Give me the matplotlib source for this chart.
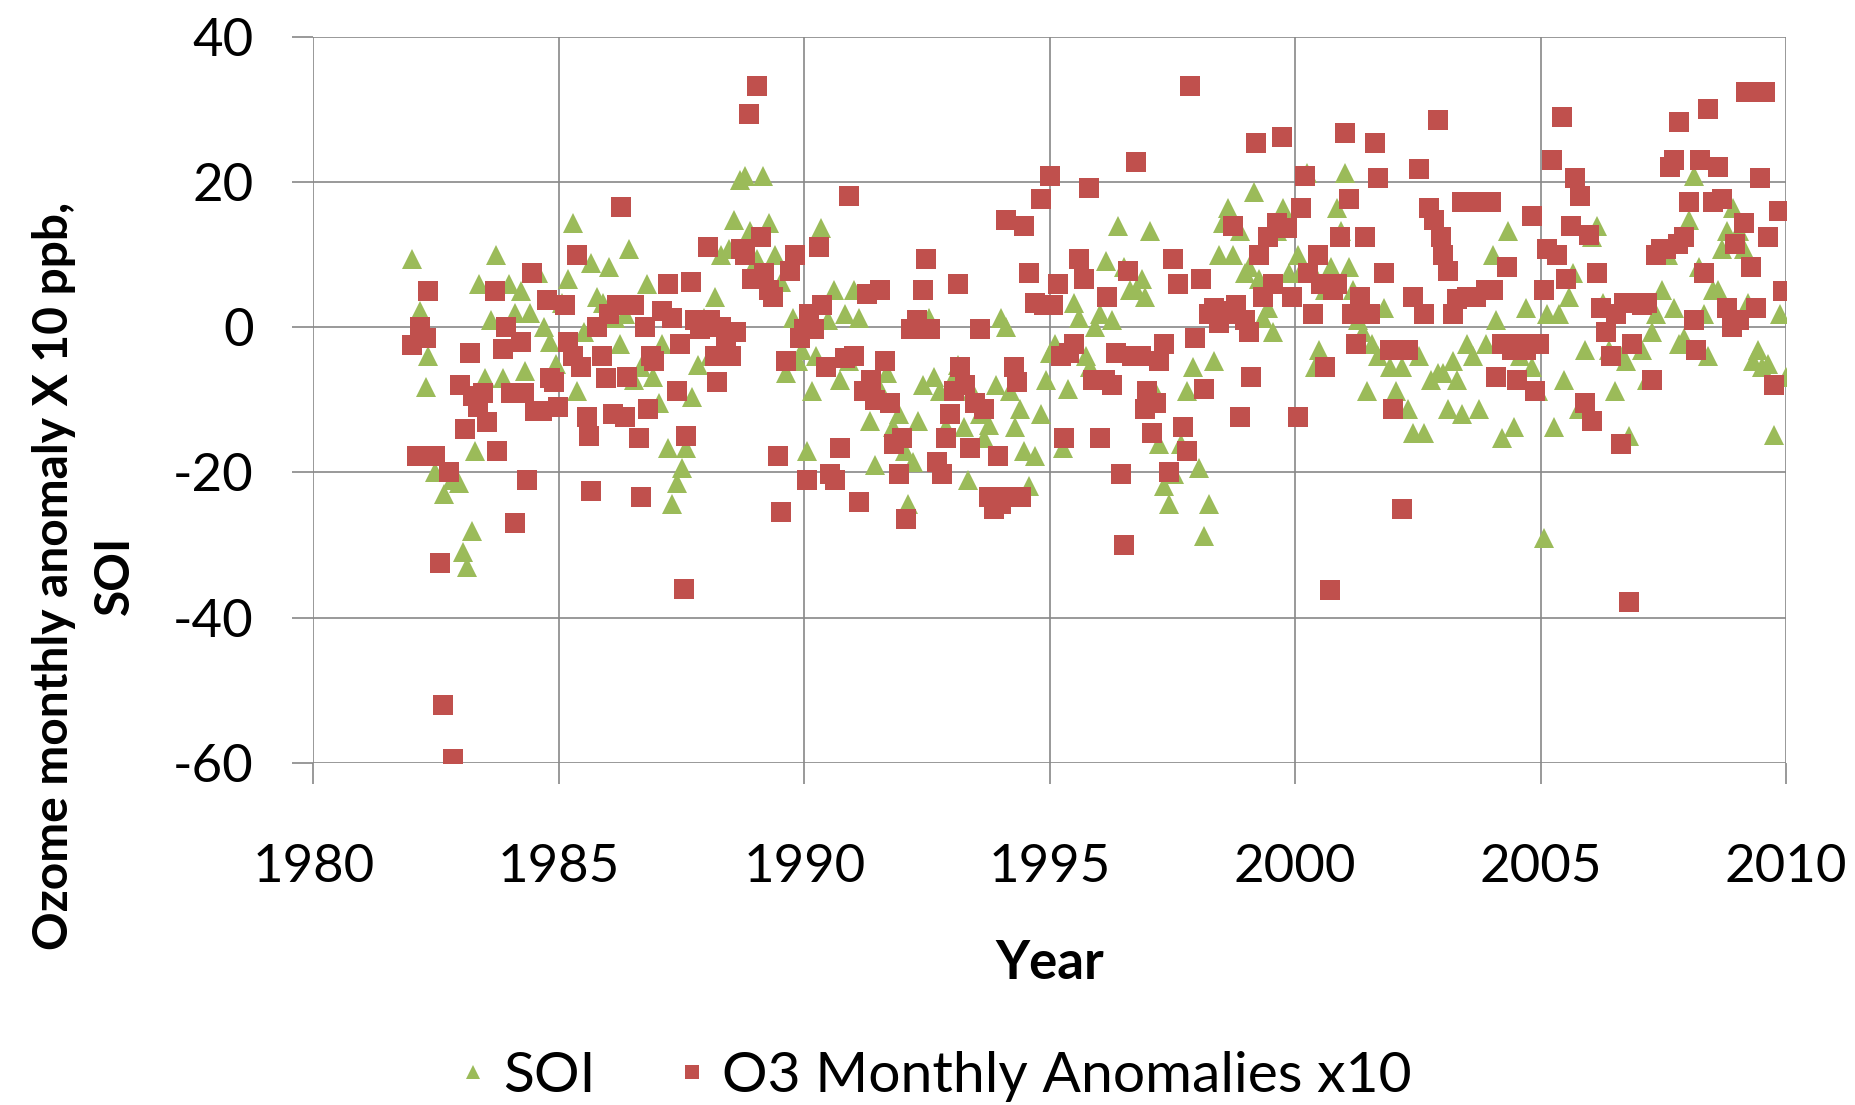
import matplotlib
matplotlib.use("Agg")
import matplotlib.pyplot as plt
from matplotlib.lines import Line2D
from matplotlib.ticker import MultipleLocator

plt.rcParams.update({
    'font.family': ['Lato', 'DejaVu Sans'],
    'axes.unicode_minus': False,
})

# SOI (decimal year, value)
soi_year = [
    1982.00, 1982.17, 1982.29, 1982.34, 1982.48, 1982.65, 1982.82, 1982.96,
    1983.04, 1983.13, 1983.23, 1983.30, 1983.37, 1983.49, 1983.62, 1983.71, 1983.86, 1983.98,
    1984.10, 1984.22, 1984.31, 1984.41, 1984.58, 1984.70, 1984.82, 1984.94,
    1985.06, 1985.18, 1985.28, 1985.37, 1985.52, 1985.66, 1985.78, 1985.90,
    1986.03, 1986.15, 1986.24, 1986.34, 1986.43, 1986.53, 1986.68, 1986.80, 1986.92,
    1987.04, 1987.11, 1987.23, 1987.30, 1987.40, 1987.50, 1987.59, 1987.71, 1987.83, 1987.95,
    1988.07, 1988.17, 1988.31, 1988.46, 1988.56, 1988.68, 1988.80, 1988.89,
    1989.04, 1989.16, 1989.28, 1989.40, 1989.52, 1989.62, 1989.76, 1989.88, 1989.95,
    1990.05, 1990.15, 1990.24, 1990.34, 1990.48, 1990.60, 1990.72, 1990.82, 1990.92,
    1991.01, 1991.11, 1991.21, 1991.33, 1991.45, 1991.57, 1991.69, 1991.81, 1991.93,
    1992.05, 1992.12, 1992.22, 1992.32, 1992.41, 1992.53, 1992.65, 1992.77, 1992.89,
    1993.04, 1993.13, 1993.26, 1993.33, 1993.42, 1993.57, 1993.66, 1993.76, 1993.91,
    1994.00, 1994.10, 1994.19, 1994.29, 1994.39, 1994.48, 1994.58, 1994.70, 1994.82, 1994.92,
    1995.01, 1995.11, 1995.26, 1995.38, 1995.50, 1995.59, 1995.74, 1995.83, 1995.93,
    1996.03, 1996.15, 1996.27, 1996.39, 1996.51, 1996.63, 1996.75, 1996.87, 1996.94,
    1997.04, 1997.14, 1997.23, 1997.33, 1997.42, 1997.54, 1997.67, 1997.79, 1997.91,
    1998.05, 1998.15, 1998.24, 1998.34, 1998.44, 1998.53, 1998.63, 1998.73, 1998.87, 1998.97,
    1999.06, 1999.16, 1999.26, 1999.35, 1999.45, 1999.55, 1999.64, 1999.76, 1999.88,
    2000.05, 2000.12, 2000.24, 2000.32, 2000.41, 2000.49, 2000.61, 2000.73, 2000.85, 2000.94,
    2001.02, 2001.09, 2001.18, 2001.28, 2001.38, 2001.47, 2001.57, 2001.69, 2001.81, 2001.93,
    2002.05, 2002.17, 2002.29, 2002.41, 2002.53, 2002.63, 2002.77, 2002.90,
    2003.02, 2003.11, 2003.21, 2003.30, 2003.40, 2003.50, 2003.62, 2003.74, 2003.88,
    2004.03, 2004.10, 2004.22, 2004.34, 2004.46, 2004.58, 2004.70, 2004.82, 2004.94,
    2005.06, 2005.14, 2005.28, 2005.38, 2005.47, 2005.57, 2005.67, 2005.79, 2005.91,
    2006.05, 2006.15, 2006.27, 2006.39, 2006.51, 2006.63, 2006.75, 2006.80, 2006.87,
    2007.06, 2007.16, 2007.26, 2007.35, 2007.47, 2007.59, 2007.71, 2007.83, 2007.93,
    2008.03, 2008.12, 2008.22, 2008.32, 2008.41, 2008.51, 2008.61, 2008.70, 2008.80, 2008.92,
    2009.04, 2009.14, 2009.23, 2009.33, 2009.43, 2009.52, 2009.64, 2009.76, 2009.88, 2010.00,
]
soi_value = [
    9.4, 2.3, -8.3, -4.0, -20.0, -23.0, -21.0, -21.5,
    -31.0, -33.0, -28.0, -17.0, 6.0, -7.0, 1.0, 10.0, -7.0, 6.0,
    2.0, 5.0, -6.0, 2.0, 7.5, 0.0, -2.0, -5.0,
    3.4, 6.7, 14.3, -8.8, -0.6, 8.8, 4.2, 3.4,
    8.3, 1.3, -2.3, 1.8, 10.7, -7.2, -5.5, 5.9, -6.8,
    -10.4, -2.3, -16.6, -24.3, -21.5, -19.4, -16.6, -9.6, -5.2, 1.3,
    -3.9, 4.2, 9.9, 10.7, 14.8, 20.2, 20.8, 13.2,
    9.4, 20.8, 14.3, 9.9, 6.2, -6.3, 1.3, -4.7, -3.1,
    -17.0, -8.8, -3.9, 13.7, 1.0, 5.1, -7.2, 1.8, -4.7,
    5.1, 1.3, -8.8, -12.9, -19.0, -8.8, -6.3, -13.7, -12.0,
    -17.0, -24.3, -18.6, -12.9, -8.0, 1.3, -6.8, -8.8, -13.7,
    -6.8, -5.2, -13.7, -21.0, -8.8, -12.0, -15.3, -13.4, -8.0,
    1.3, 0.0, -8.8, -13.7, -11.2, -17.0, -21.8, -17.8, -12.0, -7.2,
    -3.6, -2.3, -16.6, -8.5, 3.4, 1.3, -3.9, -5.5, 0.0,
    1.8, 9.1, 1.0, 14.0, 8.3, 5.1, 5.1, 6.7, 4.2,
    13.2, -8.8, -16.1, -21.8, -24.3, -20.2, -16.1, -8.8, -5.5,
    -19.4, -28.7, -24.3, -4.7, 9.9, 14.3, 16.4, 9.9, 13.2, 7.5,
    8.3, 18.6, 6.7, 1.3, 2.6, -0.6, 13.2, 16.4, 7.5,
    9.9, 7.8, 21.3, 8.3, -5.5, -3.1, 5.1, 8.3, 16.4, 13.2,
    21.3, 8.3, 5.1, 1.0, -0.6, -8.8, -2.3, -3.9, 2.6, -5.5,
    -8.8, -5.5, -11.2, -14.5, -3.9, -14.5, -7.2, -6.3,
    -6.3, -11.2, -4.7, -7.2, -12.0, -2.3, -3.9, -11.2, -2.3,
    9.9, 1.0, -15.3, 13.2, -13.7, -3.9, 2.6, -5.5, -8.8,
    -29.0, 1.8, -13.7, 1.8, -7.2, 4.2, 7.5, -11.2, -3.1,
    12.4, 14.0, 3.4, -3.1, -8.8, -3.9, -4.7, -15.0, -2.3,
    -3.1, -7.2, -0.6, 1.8, 5.1, 9.9, 2.6, -2.3, -1.5,
    14.8, 20.8, 8.3, 1.8, -3.9, 5.1, 5.1, 10.7, 13.2, 16.4,
    13.2, 10.7, 3.4, -4.7, -3.1, -5.5, -5.0, -14.8, 1.8, -6.8,
]

# O3 monthly anomalies x10
o3_year = [
    1982.00, 1982.10, 1982.17, 1982.29, 1982.34, 1982.48, 1982.58, 1982.63, 1982.77, 1982.84,
    1982.99, 1983.08, 1983.18, 1983.25, 1983.35, 1983.45, 1983.54, 1983.69, 1983.74, 1983.86, 1983.93, 1984.02,
    1984.10, 1984.22, 1984.29, 1984.36, 1984.46, 1984.51, 1984.65, 1984.75, 1984.82, 1984.89, 1984.99,
    1985.13, 1985.18, 1985.28, 1985.37, 1985.45, 1985.57, 1985.62, 1985.66, 1985.78, 1985.88, 1985.95,
    1986.03, 1986.10, 1986.19, 1986.27, 1986.34, 1986.39, 1986.53, 1986.63, 1986.68, 1986.75, 1986.82, 1986.87, 1986.94,
    1987.11, 1987.23, 1987.30, 1987.40, 1987.47, 1987.54, 1987.59, 1987.69, 1987.78, 1987.88, 1987.98,
    1988.03, 1988.07, 1988.17, 1988.22, 1988.31, 1988.41, 1988.51, 1988.60, 1988.70, 1988.80, 1988.87, 1988.94,
    1989.04, 1989.11, 1989.18, 1989.28, 1989.37, 1989.47, 1989.52, 1989.62, 1989.71, 1989.81, 1989.91, 1990.00,
    1990.05, 1990.10, 1990.19, 1990.29, 1990.36, 1990.44, 1990.53, 1990.63, 1990.72, 1990.82, 1990.92,
    1991.01, 1991.11, 1991.21, 1991.28, 1991.35, 1991.45, 1991.54, 1991.64, 1991.74, 1991.83, 1991.93,
    1992.00, 1992.07, 1992.17, 1992.29, 1992.41, 1992.48, 1992.56, 1992.70, 1992.80, 1992.89, 1992.97,
    1993.04, 1993.13, 1993.18, 1993.28, 1993.38, 1993.47, 1993.57, 1993.66, 1993.76, 1993.86, 1993.95,
    1994.00, 1994.10, 1994.17, 1994.27, 1994.34, 1994.41, 1994.48, 1994.58, 1994.70, 1994.82, 1994.89,
    1995.01, 1995.06, 1995.16, 1995.23, 1995.30, 1995.40, 1995.50, 1995.59, 1995.69, 1995.79, 1995.88,
    1996.03, 1996.12, 1996.17, 1996.27, 1996.36, 1996.46, 1996.51, 1996.60, 1996.68, 1996.75, 1996.85, 1996.94,
    1996.99, 1997.09, 1997.16, 1997.23, 1997.33, 1997.42, 1997.52, 1997.62, 1997.71, 1997.79, 1997.86, 1997.95,
    1998.08, 1998.15, 1998.24, 1998.34, 1998.44, 1998.53, 1998.63, 1998.73, 1998.80, 1998.87, 1998.97,
    1999.06, 1999.11, 1999.21, 1999.26, 1999.35, 1999.45, 1999.55, 1999.64, 1999.74, 1999.83, 1999.93,
    2000.05, 2000.12, 2000.20, 2000.27, 2000.36, 2000.46, 2000.53, 2000.61, 2000.70, 2000.77, 2000.85, 2000.92,
    2001.02, 2001.09, 2001.16, 2001.23, 2001.33, 2001.42, 2001.52, 2001.62, 2001.69, 2001.81, 2001.93, 2002.00,
    2002.10, 2002.17, 2002.29, 2002.41, 2002.53, 2002.63, 2002.73, 2002.82, 2002.90, 2002.97,
    2003.02, 2003.11, 2003.21, 2003.30, 2003.40, 2003.50, 2003.59, 2003.69, 2003.79, 2003.88, 2003.98,
    2004.03, 2004.10, 2004.22, 2004.32, 2004.41, 2004.51, 2004.58, 2004.70, 2004.82, 2004.89, 2004.96,
    2005.06, 2005.14, 2005.23, 2005.33, 2005.43, 2005.52, 2005.62, 2005.71, 2005.81, 2005.91, 2005.98,
    2006.05, 2006.15, 2006.24, 2006.34, 2006.44, 2006.53, 2006.63, 2006.70, 2006.80, 2006.87, 2006.94,
    2007.06, 2007.16, 2007.26, 2007.35, 2007.45, 2007.55, 2007.64, 2007.71, 2007.79, 2007.83, 2007.93,
    2008.03, 2008.12, 2008.17, 2008.24, 2008.32, 2008.41, 2008.51, 2008.61, 2008.70, 2008.80, 2008.89, 2008.97,
    2009.04, 2009.14, 2009.19, 2009.28, 2009.38, 2009.47, 2009.57, 2009.64, 2009.76, 2009.86, 2009.93,
]
o3_value = [
    -2.5, -17.8, 0.0, -1.5, 5.0, -17.8, -32.4, -52.0, -20.0, -59.5,
    -8.0, -14.0, -3.5, -9.5, -11.0, -9.0, -13.0, 5.0, -17.0, -3.0, 0.0, -9.0,
    -27.0, -2.0, -9.0, -21.0, 7.5, -11.5, -11.5, 3.7, -7.0, -7.5, -11.0,
    3.0, -2.0, -4.0, 10.0, -5.5, -12.4, -15.0, -22.6, 0.0, -4.0, -7.0,
    1.8, -12.0, 3.0, 16.6, -12.4, -6.8, 3.0, -15.3, -23.4, 0.0, -11.2, -3.9, -4.7,
    2.3, 5.9, 1.3, -8.8, -2.3, -36.0, -15.0, 6.2, 1.0, -0.3, 0.0,
    11.0, 1.0, -3.9, -7.5, 0.0, -2.3, -3.9, -0.6, 10.7, 9.9, 29.3, 6.7,
    33.2, 12.4, 7.5, 5.1, 4.2, -17.8, -25.4, -4.7, 7.8, 9.9, -1.5, -0.3,
    -21.0, 1.8, -0.3, 11.0, 3.0, -5.5, -20.2, -21.0, -16.6, -4.2, 18.0,
    -3.9, -24.1, -8.8, 4.6, -7.2, -10.0, 5.1, -4.7, -10.4, -16.1, -20.2,
    -15.3, -26.4, -0.3, 1.0, 5.1, 9.4, -0.3, -18.6, -20.2, -15.3, -12.0,
    -8.8, 5.9, -5.5, -8.0, -16.6, -10.4, -0.3, -11.2, -23.4, -25.0, -17.8,
    -24.3, 14.8, -23.4, -5.5, -7.5, -23.4, 14.0, 7.5, 3.4, 17.6, 3.0,
    20.8, 3.0, 5.9, -3.9, -15.3, -3.6, -2.3, 9.4, 6.7, 19.2, -7.2,
    -15.3, -7.2, 4.2, -8.0, -3.6, -20.2, -30.0, 7.8, -3.9, 22.8, -3.9, -11.2,
    -8.8, -14.5, -10.4, -4.7, -2.3, -19.9, 9.4, 5.9, -13.7, -17.0, 33.2, -1.5,
    6.7, -8.5, 1.8, 2.6, 0.6, 2.3, 1.8, 14.0, 3.0, -12.4, 1.0,
    -0.6, -6.8, 25.4, 9.9, 4.2, 12.4, 5.9, 14.3, 26.2, 13.7, 4.2,
    -12.4, 16.4, 20.8, 7.5, 1.8, 9.9, 5.9, -5.5, -36.2, 5.1, 5.9, 12.4,
    26.7, 17.6, 1.8, -2.3, 4.2, 12.4, 1.8, 25.4, 20.5, 7.5, -3.1, -11.2,
    -3.1, -25.0, -3.1, 4.2, 21.8, 1.8, 16.4, 14.8, 28.5, 12.4,
    9.9, 7.8, 1.8, 3.9, 17.3, 4.2, 17.3, 4.2, 17.3, 5.1, 17.3,
    5.1, -6.8, -2.3, 8.3, -3.1, -7.2, -2.3, -3.1, 15.3, -8.8, -2.3,
    5.1, 10.7, 23.0, 9.9, 29.0, 6.7, 14.0, 20.5, 18.0, -10.4, 12.7,
    -12.9, 7.5, 2.6, -0.6, -3.9, 1.8, -16.1, 3.4, -37.8, -2.3, 3.4,
    3.0, 3.4, -7.2, 9.9, 10.7, 10.7, 22.1, 23.0, 11.5, 28.3, 12.4,
    17.3, 1.0, -3.1, 23.0, 7.5, 30.1, 17.3, 22.1, 17.6, 2.6, 0.0, 11.5,
    1.0, 14.3, 32.4, 8.3, 2.6, 20.5, 32.4, 12.4, -8.0, 16.0, 5.0,
]

green = '#9BBB59'
red = '#C0504D'
grey = '#888888'

fig = plt.figure(figsize=(18.55, 11.05), dpi=100)
ax = fig.add_axes([0.169, 0.3095, 0.7938, 0.6573])

ax.plot(soi_year, soi_value, linestyle='none', marker='^', markersize=14,
        color=green, markeredgewidth=0, zorder=3)
ax.plot(o3_year, o3_value, linestyle='none', marker='s', markersize=14.5,
        color=red, markeredgewidth=0, zorder=4)

ax.set_xlim(1980, 2010)
ax.set_ylim(-60, 40)
ax.xaxis.set_major_locator(MultipleLocator(5))
ax.yaxis.set_major_locator(MultipleLocator(20))

ax.grid(True, color=grey, linewidth=1.2)
ax.set_axisbelow(True)
for s in ax.spines.values():
    s.set_visible(False)

ax.tick_params(axis='both', colors=grey, length=15, width=1.2,
               labelcolor='black', labelsize=38)
ax.tick_params(axis='x', pad=43)
ax.tick_params(axis='y', pad=28)

fig.text(0.0456, 0.479, 'Ozome monthly anomaly X 10 ppb,\nSOI', rotation=90,
         ha='center', va='center', multialignment='center',
         fontsize=34.5, fontweight='bold', linespacing=1.45)
fig.text(0.566, 0.128, 'Year', ha='center', va='center',
         fontsize=38, fontweight='bold')

handles = [
    Line2D([0], [0], linestyle='none', marker='^', markersize=10,
           color=green, markeredgewidth=0, label='SOI'),
    Line2D([0], [0], linestyle='none', marker='s', markersize=10,
           color=red, markeredgewidth=0, label='O3 Monthly Anomalies x10'),
]
fig.legend(handles=handles, loc='center', bbox_to_anchor=(0.505, 0.026),
           ncol=2, frameon=False, fontsize=41, handlelength=0.4,
           handletextpad=0.32, columnspacing=1.5)

fig.savefig('out.png', dpi=100)
